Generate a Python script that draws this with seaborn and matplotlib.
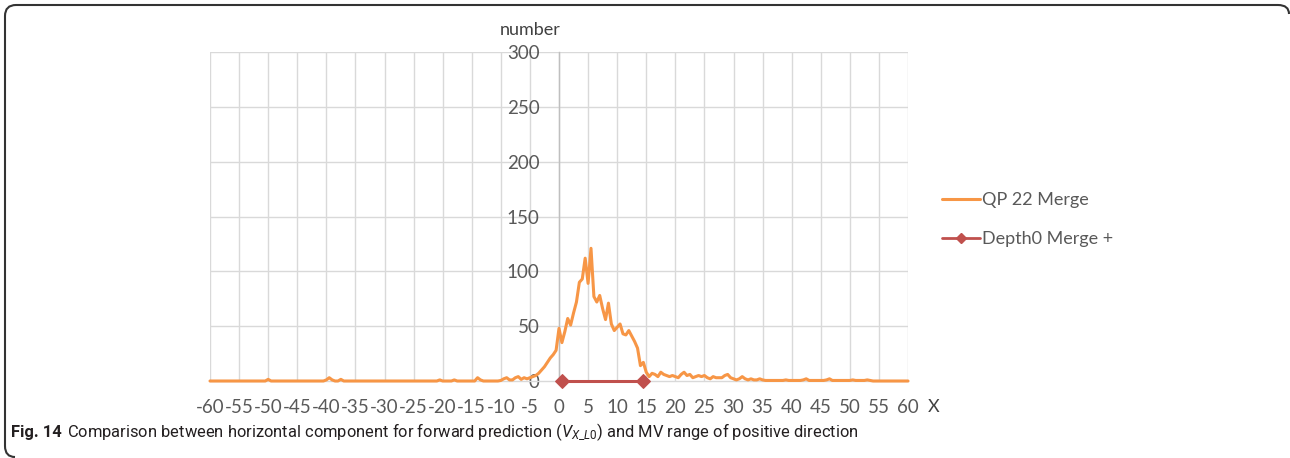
import numpy as np
import pandas as pd
import matplotlib
matplotlib.use("Agg")
import matplotlib.pyplot as plt
import seaborn as sns
from matplotlib.path import Path
from matplotlib.patches import PathPatch
from matplotlib.lines import Line2D

# ---------------- data ----------------
mv_x = np.arange(-60, 60.5, 0.5)  # motion-vector component (half-step grid)
qp22_counts = [
    # -60.0 .. -50.5
    0, 0, 0, 0, 0, 0, 0, 0, 0, 0, 0, 0, 0, 0, 0, 0, 0, 0, 0, 0,
    # -50.0 .. -40.5
    1.5, 0, 0, 0, 0, 0, 0, 0, 0, 0, 0, 0, 0, 0, 0, 0, 0, 0, 0, 0,
    # -40.0 .. -30.5
    1, 3, 1, 0, 0, 1.5, 0, 0, 0, 0, 0, 0, 0, 0, 0, 0, 0, 0, 0, 0,
    # -30.0 .. -20.5
    0, 0, 0, 0, 0, 0, 0, 0, 0, 0, 0, 0, 0, 0, 0, 0, 0, 0, 0, 1,
    # -20.0 .. -10.5
    0, 0, 0, 0, 1, 0, 0, 0, 0, 0, 0, 0, 3, 1, 0, 0, 0, 0, 0, 0,
    # -10.0 .. -0.5
    0.5, 2, 3, 1, 1, 3, 4, 1.5, 3, 2, 3, 4, 5, 7, 10, 13, 17, 21, 24, 28,
    # 0.0 .. 9.5
    48, 35, 45, 57, 51, 62, 72, 90, 93, 112, 89, 121, 77, 72, 78, 66, 56, 71, 52, 46,
    # 10.0 .. 19.5
    49, 52, 43, 42, 46, 41, 36, 30, 14, 17, 8, 4, 7, 6, 4, 8, 6, 5, 4, 5,
    # 20.0 .. 29.5
    4, 3, 6, 8, 5, 6, 3, 4, 5, 4, 5, 3, 2, 4, 3, 3, 3, 5, 6, 3,
    # 30.0 .. 39.5
    2, 1, 2, 4, 2, 1, 2, 1, 1, 2, 1, 0.5, 0.5, 0.5, 0.5, 0.5, 0.5, 0.5, 1, 0.5,
    # 40.0 .. 49.5
    0.5, 0.5, 0.5, 0.5, 1, 2, 0.5, 0.5, 0.5, 0.5, 0.5, 0.5, 1, 2, 0.5, 0.5, 0.5, 0.5, 0.5, 0.5,
    # 50.0 .. 59.5
    0.5, 1, 0.5, 0.5, 0.5, 0.5, 1, 0.5, 0, 0, 0, 0, 0, 0, 0, 0, 0, 0, 0, 0,
    # 60.0
    0,
]
depth0_x = [0.5, 14.5]
depth0_y = [0, 0]

x_ticks = list(range(-60, 61, 5))
y_ticks = [0, 50, 100, 150, 200, 250, 300]
series_names = ["QP 22 Merge", "Depth0 Merge +"]
orange = "#F79646"
red = "#C0504D"

df_qp = pd.DataFrame({"x": mv_x, "y": qp22_counts})
df_d0 = pd.DataFrame({"x": depth0_x, "y": depth0_y})

# ---------------- style ----------------
sns.set_theme(style="white")
plt.rcParams["font.family"] = ["Lato", "DejaVu Sans"]
plt.rcParams["mathtext.fontset"] = "custom"
plt.rcParams["mathtext.rm"] = "Roboto"
plt.rcParams["mathtext.it"] = "Roboto:italic"

W, H = 1290, 458
fig = plt.figure(figsize=(W / 100, H / 100), dpi=100)
ax = fig.add_axes([210 / W, 1 - 381 / H, (908 - 210) / W, (381 - 52) / H])

# grid
for xv in x_ticks:
    ax.axvline(xv, color="#D9D9D9", lw=1, zorder=0)
for yv in y_ticks[1:]:
    ax.axhline(yv, color="#D9D9D9", lw=1, zorder=0)

sns.lineplot(data=df_qp, x="x", y="y", ax=ax, color=orange, lw=2.2,
             zorder=3, legend=False, clip_on=False)
sns.lineplot(data=df_d0, x="x", y="y", ax=ax, color=red, lw=2.2,
             marker="D", markersize=7.5, markeredgecolor=red, zorder=4,
             legend=False, clip_on=False)

ax.set_xlim(-60, 60)
ax.set_ylim(0, 300)
ax.set_xticks(x_ticks)
ax.set_xticklabels([str(v) for v in x_ticks])
ax.set_yticks(y_ticks)
ax.set_xlabel("")
ax.set_ylabel("")

for s in ["top", "right"]:
    ax.spines[s].set_visible(False)
ax.spines["left"].set_position(("data", 0))
ax.spines["left"].set_color("#BFBFBF")
ax.spines["left"].set_linewidth(1)
ax.spines["bottom"].set_color("#D9D9D9")
ax.spines["bottom"].set_linewidth(1)
ax.tick_params(axis="both", length=0, labelsize=13.5, labelcolor="#595959")
ax.tick_params(axis="x", pad=13)
ax.tick_params(axis="y", pad=14)

# axis titles
fig.text(530 / W, 1 - 30 / H, "number", ha="center", va="center",
         fontsize=13, color="#404040")
fig.text(934 / W, 1 - 407 / H, "X", ha="center", va="center",
         fontsize=13, color="#404040")

# legend
handles = [
    Line2D([], [], color=orange, lw=2.2),
    Line2D([], [], color=red, lw=2, marker="D", markersize=5),
]
fig.legend(handles, series_names, loc="upper left",
           bbox_to_anchor=(926 / W, 1 - 176 / H), frameon=False,
           fontsize=13, handlelength=2.1, handletextpad=0.1,
           labelspacing=1.25, labelcolor="#595959")

# caption
cap_font = ["Roboto", "DejaVu Sans"]
t1 = fig.text(11 / W, 1 - 432 / H, "Fig. 14", ha="left", va="center",
              fontsize=11.9, fontweight="bold", family=cap_font,
              color="#231F20")
ax.annotate(r"Comparison between horizontal component for forward prediction "
            r"($V_{X\_L0}$) and MV range of positive direction",
            xy=(1, 0.5), xycoords=t1, xytext=(4, 0), textcoords="offset points",
            ha="left", va="center", fontsize=11.9, color="#231F20",
            family=cap_font, annotation_clip=False)

# rounded frame (top + left)
def P(x, y):
    return (x / W, 1 - y / H)

verts = [P(15, 457), P(5, 457), P(5, 446), P(5, 16), P(5, 5), P(16, 5),
         P(1278, 5), P(1289, 5), P(1289, 14)]
codes = [Path.MOVETO, Path.CURVE3, Path.CURVE3, Path.LINETO, Path.CURVE3,
         Path.CURVE3, Path.LINETO, Path.CURVE3, Path.CURVE3]
frame = PathPatch(Path(verts, codes), transform=fig.transFigure, fill=False,
                  edgecolor="#333333", lw=1.5)
fig.add_artist(frame)

fig.savefig("out.png", dpi=100)
